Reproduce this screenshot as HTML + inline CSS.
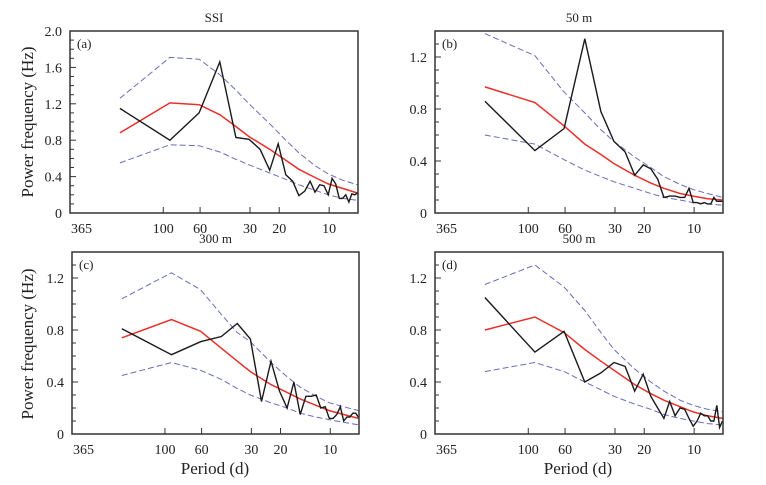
<!DOCTYPE html>
<html><head><meta charset="utf-8"><style>
body{margin:0;background:#fff;}
svg, svg text{font-family:"Liberation Serif","Times New Roman",serif !important;}
</style></head><body>
<svg id="chart" width="766" height="480" viewBox="0 0 766 480" xmlns="http://www.w3.org/2000/svg" font-family="Liberation Serif, serif"></svg>
<script>
const xTickPeriods = [100, 60, 30, 20, 10];
const xTickLabels = ["100", "60", "30", "20", "10"];
const panelTitles = ["SSI", "50 m", "300 m", "500 m"];
const panelLetters = ["(a)", "(b)", "(c)", "(d)"];
const panelYMax = [2.0, 1.4, 1.4, 1.4];
const yTicksA = [0, 0.4, 0.8, 1.2, 1.6, 2.0];
const yTickLabelsA = ["0", "0.4", "0.8", "1.2", "1.6", "2.0"];
const yTicksB = [0, 0.4, 0.8, 1.2];
const yTickLabelsB = ["0", "0.4", "0.8", "1.2"];
// harmonic indices: period = 365 / k
const kObs = [2,4,6,8,10,12,14,16,18,20,22,24,26,28,30,32,34,36,38,40,42,44,46,48,50,52,54];
const kFit = [2,4,6,8,10,12,16,20,24,30,36,44,54];
const obsA = [1.15,0.80,1.10,1.66,0.83,0.81,0.70,0.47,0.76,0.42,0.35,0.19,0.24,0.35,0.23,0.31,0.30,0.20,0.38,0.32,0.16,0.16,0.20,0.12,0.21,0.20,0.22];
const fitA = [0.88,1.21,1.19,1.08,0.95,0.84,0.70,0.58,0.48,0.39,0.32,0.27,0.22];
const upA = [1.26,1.71,1.69,1.52,1.35,1.20,0.98,0.80,0.66,0.52,0.43,0.36,0.31];
const loA = [0.55,0.75,0.74,0.67,0.59,0.53,0.44,0.37,0.31,0.25,0.20,0.16,0.14];
const obsB = [0.86,0.48,0.65,1.34,0.78,0.55,0.47,0.29,0.37,0.34,0.26,0.12,0.13,0.13,0.12,0.12,0.19,0.08,0.08,0.07,0.08,0.07,0.07,0.12,0.09,0.09,0.09];
const fitB = [0.97,0.85,0.67,0.53,0.45,0.38,0.29,0.23,0.19,0.15,0.13,0.11,0.10];
const upB = [1.38,1.21,0.93,0.77,0.64,0.55,0.43,0.35,0.28,0.22,0.18,0.15,0.12];
const loB = [0.60,0.53,0.41,0.33,0.28,0.24,0.19,0.15,0.12,0.10,0.08,0.07,0.06];
const obsC = [0.81,0.61,0.71,0.75,0.85,0.73,0.25,0.56,0.33,0.20,0.40,0.15,0.29,0.29,0.30,0.20,0.21,0.12,0.12,0.15,0.21,0.10,0.13,0.13,0.16,0.16,0.13];
const fitC = [0.74,0.88,0.79,0.66,0.56,0.48,0.38,0.32,0.27,0.22,0.18,0.15,0.12];
const upC = [1.04,1.24,1.11,0.92,0.78,0.71,0.55,0.44,0.36,0.29,0.24,0.21,0.18];
const loC = [0.45,0.55,0.49,0.42,0.35,0.30,0.24,0.20,0.16,0.13,0.11,0.09,0.07];
const obsD = [1.05,0.63,0.79,0.40,0.47,0.55,0.52,0.33,0.46,0.29,0.20,0.12,0.25,0.14,0.20,0.19,0.12,0.06,0.10,0.16,0.14,0.14,0.10,0.10,0.22,0.05,0.10];
const fitD = [0.80,0.90,0.78,0.65,0.56,0.49,0.38,0.31,0.26,0.21,0.17,0.14,0.12];
const upD = [1.15,1.30,1.13,0.95,0.78,0.65,0.50,0.40,0.33,0.26,0.22,0.19,0.17];
const loD = [0.48,0.55,0.48,0.40,0.34,0.29,0.23,0.19,0.15,0.12,0.10,0.08,0.07];

const NS = "http://www.w3.org/2000/svg";
const svg = document.getElementById("chart");
const FF = "Liberation Serif, serif";
function mk(tag, attrs, parent){const e=document.createElementNS(NS,tag);for(const k in attrs)e.setAttribute(k,attrs[k]);if(tag==="text"){e.setAttribute("font-family",FF);e.setAttribute("fill","#222");}(parent||svg).appendChild(e);return e;}

const boxes = [
  {l:70,r:358,t:31,b:213},
  {l:435,r:723,t:31,b:213},
  {l:72,r:359,t:252,b:434},
  {l:435,r:723,t:252,b:434}
];
const series = [
  [obsA,fitA,upA,loA],[obsB,fitB,upB,loB],[obsC,fitC,upC,loC],[obsD,fitD,upD,loD]
];

boxes.forEach((bx,i)=>{
  const g = mk("g",{});
  
  
  const ymax = panelYMax[i];
  const dec = (bx.r-bx.l)/ (Math.log10(365)-Math.log10(6.7));
  const xS = p => bx.l + (Math.log10(365)-Math.log10(p))*dec;
  const yS = v => bx.b - v/ymax*(bx.b-bx.t);
  const tt = mk("text",{x:(bx.l+bx.r)/2,y:bx.t-9,"text-anchor":"middle","font-size":"13"},g);
  tt.textContent = panelTitles[i];
  
  
  const lt = mk("text",{x:bx.l+7,y:bx.t+17,"font-size":"13"},g);
  lt.textContent = panelLetters[i];
  
  
  const yt = i===0?yTicksA:yTicksB, yl = i===0?yTickLabelsA:yTickLabelsB;
  for(let v=0; v<=ymax+1e-9; v+=0.1){
    const major = Math.abs(v/0.4-Math.round(v/0.4))<1e-6;
    mk("line",{x1:bx.l,x2:bx.l+(major?6:4),y1:yS(v),y2:yS(v),stroke:"#333","stroke-width":1},g);
  }
  yt.forEach((v,j)=>{
    const t = mk("text",{x:bx.l-8,y:yS(v)+5,"text-anchor":"end","font-size":"14"},g);
    t.textContent = yl[j];
    
    
  });
  const t0 = mk("text",{x:bx.l+1,y:bx.b+20,"text-anchor":"start","font-size":"14"},g);
  t0.textContent = "365";
  
  
  xTickPeriods.forEach((p,j)=>{
    mk("line",{x1:xS(p),x2:xS(p),y1:bx.b,y2:bx.b-6,stroke:"#333","stroke-width":1},g);
    const t = mk("text",{x:xS(p),y:bx.b+20,"text-anchor":"middle","font-size":"14"},g);
    t.textContent = xTickLabels[j];
    
    
  });
  const clip = mk("clipPath",{id:"c"+i},g);
  mk("rect",{x:bx.l,y:bx.t,width:bx.r-bx.l,height:bx.b-bx.t},clip);
  const [obs,fit,up,lo] = series[i];
  const pts = (ks,vals)=>ks.map((k,j)=>xS(365/k).toFixed(1)+","+yS(vals[j]).toFixed(1)).join(" ");
  const u = mk("polyline",{points:pts(kFit,up),fill:"none",stroke:"#6b6bbd","stroke-width":1,"stroke-dasharray":"6,3","clip-path":"url(#c"+i+")"},g);
  
  
  const lw = mk("polyline",{points:pts(kFit,lo),fill:"none",stroke:"#6b6bbd","stroke-width":1,"stroke-dasharray":"6,3","clip-path":"url(#c"+i+")"},g);
  
  
  const f = mk("polyline",{points:pts(kFit,fit),fill:"none",stroke:"#e8302a","stroke-width":1.5,"clip-path":"url(#c"+i+")"},g);
  
  
  const o = mk("polyline",{points:pts(kObs,obs),fill:"none",stroke:"#1a1a1a","stroke-width":1.4,"clip-path":"url(#c"+i+")"},g);
  
  
  const fr = mk("rect",{x:bx.l,y:bx.t,width:bx.r-bx.l,height:bx.b-bx.t,fill:"none",stroke:"#333","stroke-width":1.5},g);
  
  
});
[122,344].forEach(cy=>{
  const t = mk("text",{x:0,y:0,"text-anchor":"middle","font-size":"17",transform:"translate(33,"+cy+") rotate(-90)"});
  t.textContent = "Power frequency (Hz)";
  
  
});
[215,578].forEach(x=>{
  const t = mk("text",{x:x,y:474,"text-anchor":"middle","font-size":"17"});
  t.textContent = "Period (d)";
  
  
});
</script>
</body></html>
